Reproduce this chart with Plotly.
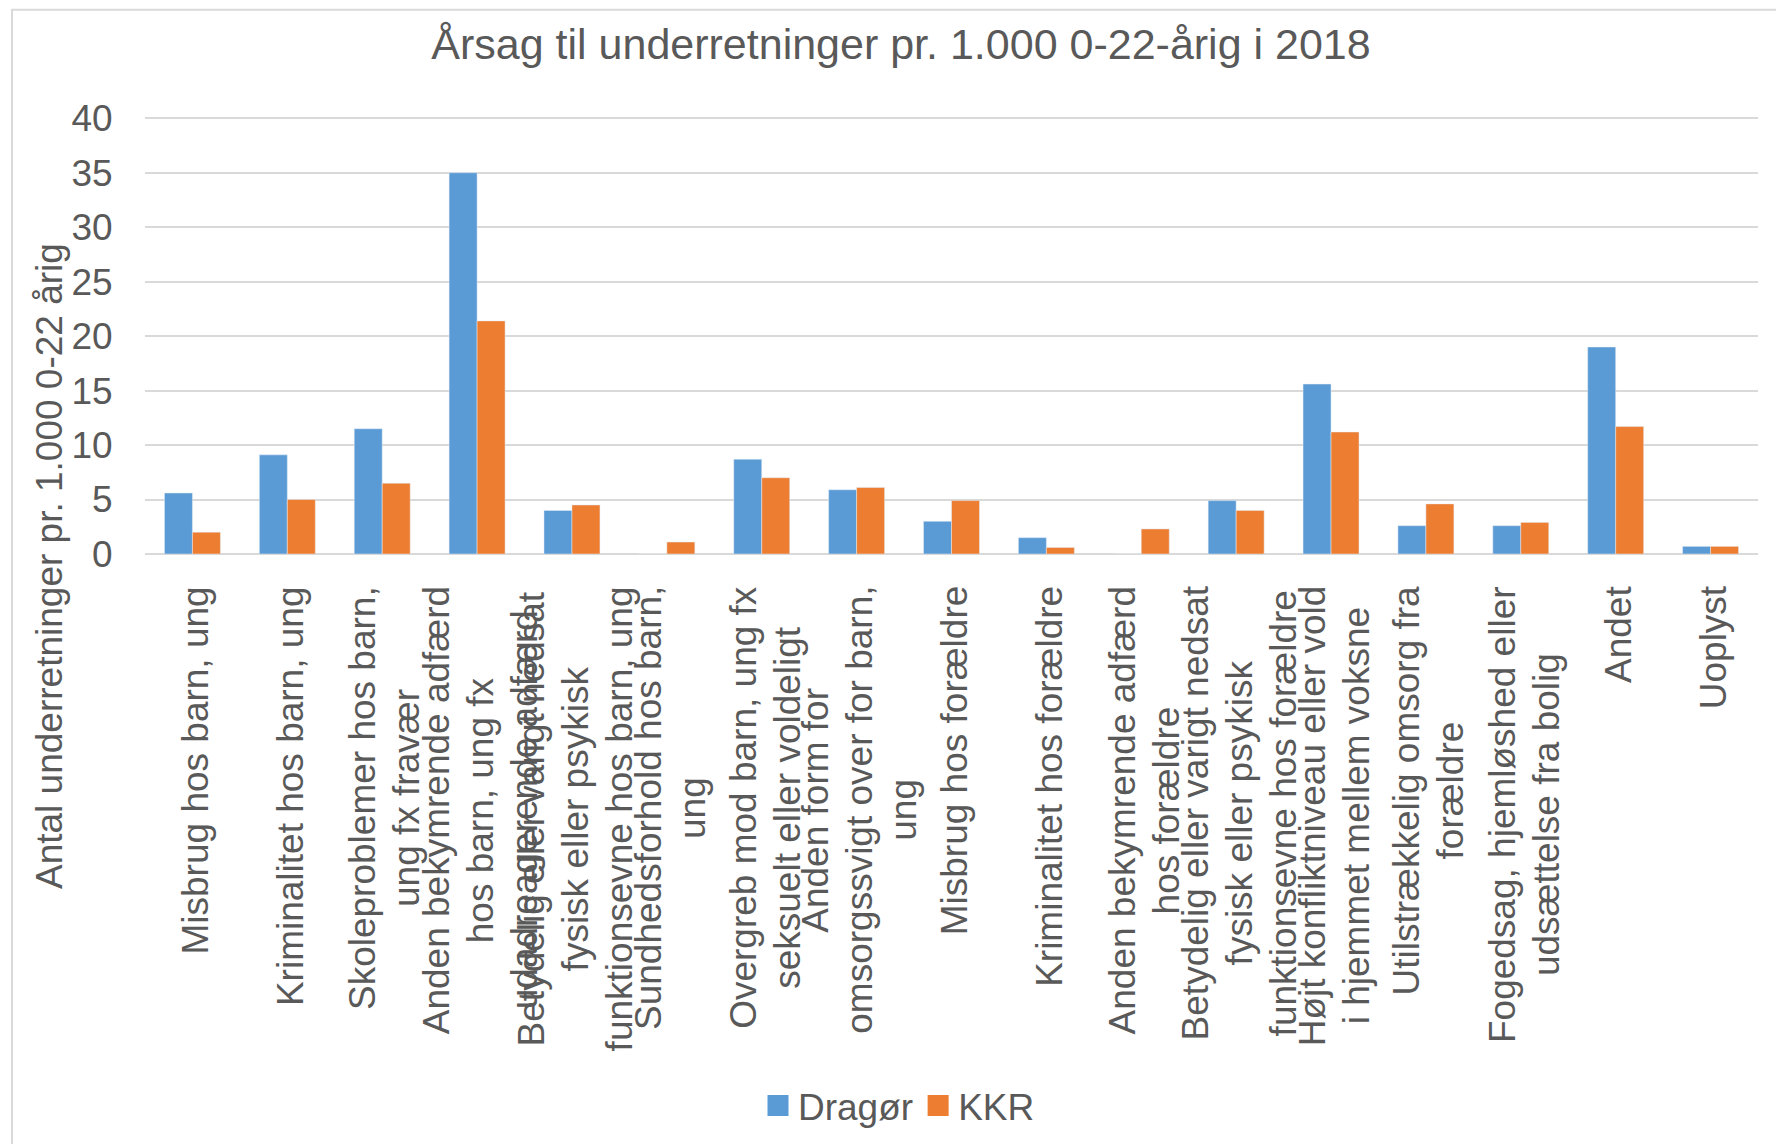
import plotly.graph_objects as go

categories = [
    "Misbrug hos barn, ung",
    "Kriminalitet hos barn, ung",
    "Skoleproblemer hos barn,<br>ung fx fravær",
    "Anden bekymrende adfærd<br>hos barn, ung fx<br>udadreagerende adfærd",
    "Betydelig eller varigt nedsat<br>fysisk eller psykisk<br>funktionsevne hos barn, ung",
    "Sundhedsforhold hos barn,<br>ung",
    "Overgreb mod barn, ung fx<br>seksuelt eller voldeligt",
    "Anden form for<br>omsorgssvigt over for barn,<br>ung",
    "Misbrug hos forældre",
    "Kriminalitet hos forældre",
    "Anden bekymrende adfærd<br>hos forældre",
    "Betydelig eller varigt nedsat<br>fysisk eller psykisk<br>funktionsevne hos forældre",
    "Højt konfliktniveau eller vold<br>i hjemmet mellem voksne",
    "Utilstrækkelig omsorg fra<br>forældre",
    "Fogedsag, hjemløshed eller<br>udsættelse fra bolig",
    "Andet",
    "Uoplyst",
]
dragor = [5.6, 9.1, 11.5, 35.0, 4.0, 0, 8.7, 5.9, 3.0, 1.5, 0, 4.9, 15.6, 2.6, 2.6, 19.0, 0.7]
kkr = [2.0, 5.0, 6.5, 21.4, 4.5, 1.1, 7.0, 6.1, 4.9, 0.6, 2.3, 4.0, 11.2, 4.6, 2.9, 11.7, 0.7]
series_names = ["Dragør", "KKR"]
series_colors = ["#5B9BD5", "#ED7D31"]
y_ticks = [0, 5, 10, 15, 20, 25, 30, 35, 40]
y_max = 40.3

FONT = "Liberation Sans, Arial, sans-serif"
GRAY = "#595959"
GRID = "#D9D9D9"
LABEL_SIZE = 37
LINE_STEP = 44  # px between label lines

# Arial / Liberation Sans advance widths (1/1000 em) for text measurement
CHAR_W = {
    'a': 556, 'b': 556, 'c': 500, 'd': 556, 'e': 556, 'f': 278, 'g': 556, 'h': 556,
    'i': 222, 'j': 222, 'k': 500, 'l': 222, 'm': 833, 'n': 556, 'o': 556, 'p': 556,
    'q': 556, 'r': 333, 's': 500, 't': 278, 'u': 556, 'v': 500, 'w': 722, 'x': 500,
    'y': 500, 'z': 500, 'æ': 889, 'ø': 611, 'å': 556, ' ': 278, ',': 278, '.': 278,
    '-': 333, 'A': 667, 'B': 667, 'F': 611, 'H': 722, 'K': 667, 'M': 833, 'O': 778,
    'S': 667, 'U': 722,
}

def text_px(s, size):
    return sum(CHAR_W.get(ch, 556) for ch in s) * size / 1000

W, H = 1784, 1144
OFF = 8  # page body margin offset (screen = figure + OFF)
SX0, SX1, SY_BOTTOM = 145, 1758, 554
SY_TOP = SY_BOTTOM - 436 * y_max / 40
LABEL_TOP = 586
L = SX0 - OFF
R = W - (SX1 - OFF)
B = H - (SY_BOTTOM - OFF)
T = (SY_TOP - OFF)
pw, ph = W - L - R, H - T - B

def paper_x(sx):
    return (sx - OFF - L) / pw

def paper_y(sy):
    return (H - B - (sy - OFF)) / ph

def cont_x(sx):
    return (sx - OFF) / W

def cont_y(sy):
    return 1 - (sy - OFF) / H

fig = go.Figure()
for name, vals, col in zip(series_names, [dragor, kkr], series_colors):
    fig.add_trace(go.Bar(x=categories, y=vals, name=name, marker_color=col,
                         legendgroup=name, showlegend=False))
# legend swatches (larger squares, like the original)
for name, col in zip(series_names, series_colors):
    fig.add_trace(go.Scatter(x=[categories[0]], y=[None], mode="markers", name=name,
                             legendgroup=name, showlegend=True, hoverinfo="skip",
                             marker=dict(symbol="square", size=16, color=col,
                                         line=dict(color=col, width=5))))

annotations = []
for c in categories:
    lines = c.split("<br>")
    n = len(lines)
    maxw = max(text_px(s, LABEL_SIZE) for s in lines)
    for i, s in enumerate(lines):
        annotations.append(dict(
            x=c, y=0, xref="x", yref="y", text=s, showarrow=False,
            textangle=-90, xanchor="center", yanchor="middle",
            xshift=(i - (n - 1) / 2) * LINE_STEP + 3,
            yshift=-((LABEL_TOP - SY_BOTTOM) + maxw / 2),
            font=dict(family=FONT, size=LABEL_SIZE, color=GRAY),
        ))
annotations.append(dict(
    x=paper_x(50), y=paper_y(566), xref="paper", yref="paper",
    text="Antal underretninger pr. 1.000 0-22 årig", showarrow=False,
    textangle=-90, xanchor="center", yanchor="middle",
    font=dict(family=FONT, size=LABEL_SIZE, color=GRAY),
))

fig.update_layout(
    width=W, height=H,
    margin=dict(l=L, r=R, t=T, b=B, pad=0, autoexpand=False),
    paper_bgcolor="white", plot_bgcolor="white",
    barmode="group", bargap=0.41, bargroupgap=0,
    title=dict(text="Årsag til underretninger pr. 1.000 0-22-årig i 2018",
               x=cont_x(901), xanchor="center", y=cont_y(44), yanchor="middle",
               xref="container", yref="container",
               font=dict(family=FONT, size=43, color=GRAY)),
    font=dict(family=FONT, size=37, color=GRAY),
    showlegend=True,
    legend=dict(orientation="h", x=cont_x(899), xanchor="center",
                y=cont_y(1106), yanchor="middle",
                xref="container", yref="container",
                font=dict(family=FONT, size=37, color=GRAY),
                bgcolor="rgba(0,0,0,0)"),
    annotations=annotations,
    shapes=[dict(type="rect", xref="paper", yref="paper",
                 x0=paper_x(12), x1=paper_x(1950),
                 y0=paper_y(1300), y1=paper_y(9.5),
                 line=dict(color=GRID, width=2), layer="below")],
)
fig.update_xaxes(type="category", categoryorder="array", categoryarray=categories,
                 range=[-0.5, len(categories) - 0.5], autorange=False,
                 showticklabels=False, showgrid=False, showline=False, ticks="")
fig.update_yaxes(range=[0, y_max], tickvals=y_ticks, showgrid=True, gridcolor=GRID,
                 gridwidth=2, zeroline=True, zerolinecolor=GRID, zerolinewidth=2,
                 showline=False, ticks="outside", ticklen=24,
                 tickcolor="rgba(0,0,0,0)",
                 tickfont=dict(family=FONT, size=37, color=GRAY))

fig.write_html("out.html")
